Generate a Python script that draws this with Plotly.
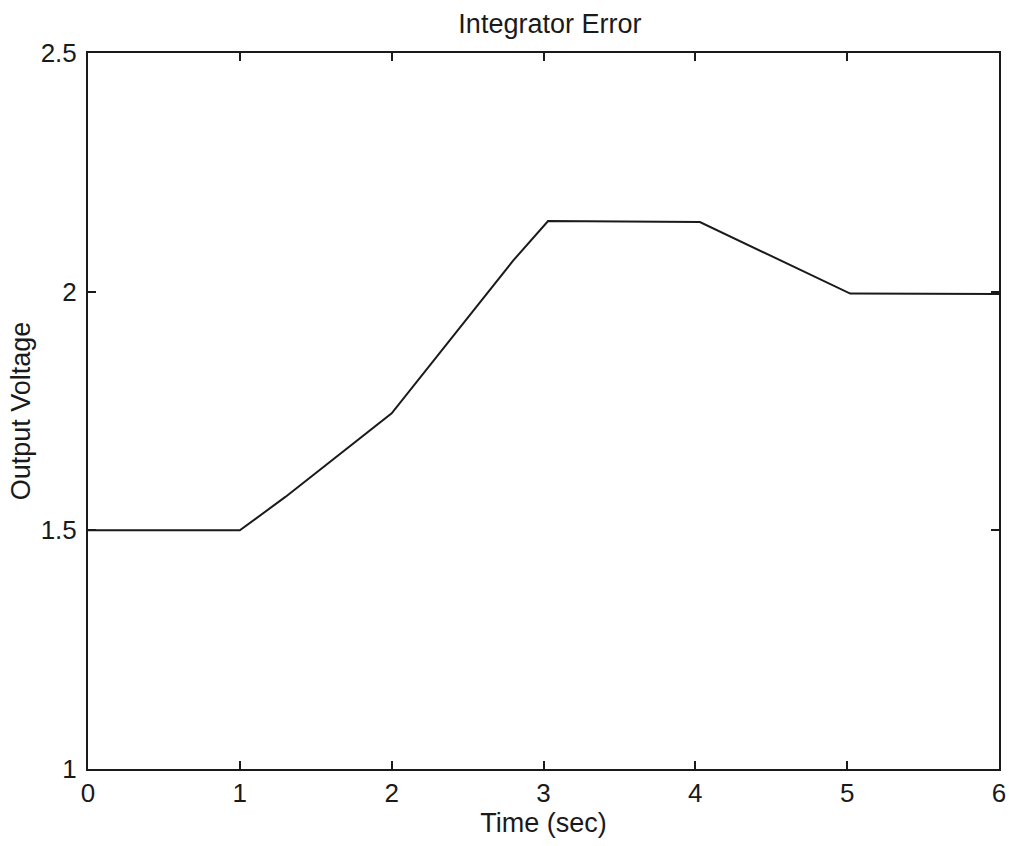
import plotly.graph_objects as go

time_sec = [0, 1, 1.3, 2, 2.8, 3.03, 4.03, 5.02, 6]
output_voltage = [1.5, 1.5, 1.57, 1.745, 2.065, 2.148, 2.146, 1.996, 1.995]

x_ticks = [0, 1, 2, 3, 4, 5, 6]
y_ticks = [1, 1.5, 2, 2.5]
y_tick_labels = ["1", "1.5", "2", "2.5"]

font_family = "Liberation Sans, Arial, sans-serif"
ink = "#1a1a1a"

fig = go.Figure()
fig.add_trace(go.Scatter(
    x=time_sec, y=output_voltage, mode="lines",
    line=dict(color=ink, width=2), showlegend=False,
))

axis_common = dict(
    showgrid=False, zeroline=False, showline=True, linecolor=ink,
    linewidth=2, mirror="ticks", ticks="inside", ticklen=8,
    tickwidth=1.5, tickcolor=ink, ticklabeloverflow="allow",
    automargin=False,
    tickfont=dict(family=font_family, size=26, color=ink),
)

fig.update_layout(
    width=1009, height=846,
    margin=dict(l=88, r=10, t=53, b=77),
    paper_bgcolor="white", plot_bgcolor="white",
    title=dict(text="Integrator Error", x=0.545, xanchor="center",
               y=1 - 24 / 846, yanchor="middle", automargin=False,
               font=dict(family=font_family, size=27, color=ink)),
    xaxis=dict(range=[0, 6], tickvals=x_ticks, ticklabelstandoff=0,
               title=dict(text="Time (sec)", standoff=6,
                          font=dict(family=font_family, size=27, color=ink)),
               **axis_common),
    yaxis=dict(range=[1, 2.5], tickvals=y_ticks, ticktext=y_tick_labels,
               ticklabelstandoff=4,
               title=dict(text="Output Voltage", standoff=2,
                          font=dict(family=font_family, size=27, color=ink)),
               **axis_common),
)

fig.write_html("out.html")
